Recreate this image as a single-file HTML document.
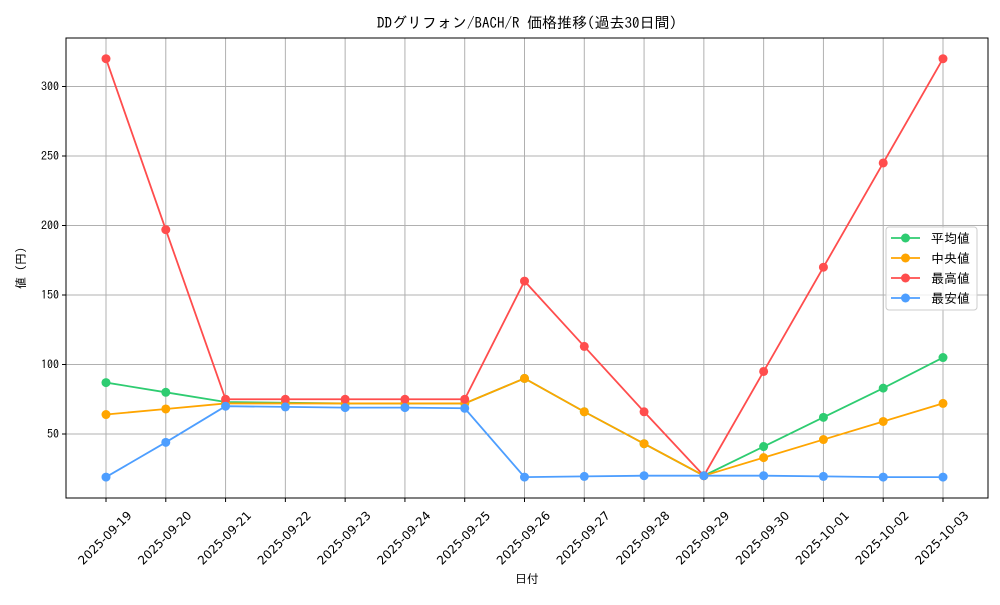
<!DOCTYPE html>
<html><head><meta charset="utf-8"><style>
body{margin:0;background:#fff;}
svg text{font-family:"IPAGothic","Noto Sans CJK JP",monospace;fill:#000;}
svg text.xl{font-family:"DejaVu Sans",sans-serif;}
</style></head><body>
<svg id="c" width="1000" height="600" xmlns="http://www.w3.org/2000/svg"></svg>
<script>
const categories=["2025-09-19","2025-09-20","2025-09-21","2025-09-22","2025-09-23","2025-09-24","2025-09-25","2025-09-26","2025-09-27","2025-09-28","2025-09-29","2025-09-30","2025-10-01","2025-10-02","2025-10-03"];
const avgValues=[87,80,73,72.5,72,72,72,90,66,43,20,41,62,83,105];
const medianValues=[64,68,72,72,72,72,72,90,66,43,20,33,46,59,72];
const maxValues=[320,197,75,75,75,75,75,160,113,66,20,95,170,245,320];
const minValues=[19,44,70,69.5,69,69,68.5,19,19.5,20,20,20,19.5,19,19];
const yTicks=[50,100,150,200,250,300];
const seriesNames=["平均値","中央値","最高値","最安値"];
const seriesColors=["#2ecc71","#ffa500","#ff4d4d","#4d9eff"];

const svg=document.getElementById('c');
const NS="http://www.w3.org/2000/svg";
const L=66,R=988,T=38,B=498;
const x=i=>106+i*(943-106)/(categories.length-1);
const y=v=>503.5-v*(69.5/50);
function mk(tag,attrs,parent){const e=document.createElementNS(NS,tag);for(const k in attrs)e.setAttribute(k,attrs[k]);(parent||svg).appendChild(e);return e;}

categories.forEach((c,i)=>{
  const g=mk('line',{x1:x(i),x2:x(i),y1:T,y2:B,stroke:'#b0b0b0','stroke-width':1});
  
  
  const t=mk('line',{x1:x(i),x2:x(i),y1:B,y2:B+4,stroke:'#000'});
  
  
  const cx=x(i)-1,cy=B+40;
  const lb=mk('text',{x:cx,y:cy+4,'font-size':12,'text-anchor':'middle','class':'xl',transform:`rotate(-45 ${cx} ${cy})`});
  lb.textContent=c;
  
  
});
yTicks.forEach(v=>{
  const g=mk('line',{x1:L,x2:R,y1:y(v),y2:y(v),stroke:'#b0b0b0','stroke-width':1});
  
  
  const t=mk('line',{x1:L-4,x2:L,y1:y(v),y2:y(v),stroke:'#000'});
  
  
  const lb=mk('text',{x:L-7,y:y(v)+4,'font-size':12,'text-anchor':'end'});
  lb.textContent=v;
  
  
});
const frame=mk('rect',{x:L,y:T,width:R-L,height:B-T,fill:'none',stroke:'#000','stroke-width':1});



const all=[avgValues,medianValues,maxValues,minValues];
[0,1,2,3].forEach(s=>{
  const vals=all[s];
  const g=mk('g',{});
  
  
  const pl=mk('polyline',{points:vals.map((v,i)=>x(i)+','+y(v)).join(' '),fill:'none',stroke:seriesColors[s],'stroke-width':1.8},g);
  
  
  vals.forEach((v,i)=>{
    const p=mk('circle',{cx:x(i),cy:y(v),r:4.5,fill:seriesColors[s]},g);
    
    
  });
});

const title=mk('text',{x:527,y:28,'font-size':15,'text-anchor':'middle'});
title.textContent="DDグリフォン/BACH/R 価格推移(過去30日間)";


const xt=mk('text',{x:527,y:583,'font-size':12,'text-anchor':'middle'});
xt.textContent="日付";


const yt=mk('text',{x:25,y:268,'font-size':12,'text-anchor':'middle',transform:'rotate(-90 25 268)'});
yt.textContent="値 (円)";



const lg=mk('g',{});


mk('rect',{x:886,y:227,width:91,height:83,rx:3,fill:'#fff','fill-opacity':0.8,stroke:'#ccc'},lg);
seriesNames.forEach((n,i)=>{
  const yy=238+i*20;
  const e=mk('g',{},lg);
  
  
  mk('line',{x1:891,x2:920,y1:yy,y2:yy,stroke:seriesColors[i],'stroke-width':1.8},e);
  mk('circle',{cx:905.5,cy:yy,r:4.5,fill:seriesColors[i]},e);
  const t=mk('text',{x:931,y:yy+5,'font-size':13},e);
  t.textContent=n;
});
</script>
</body></html>
